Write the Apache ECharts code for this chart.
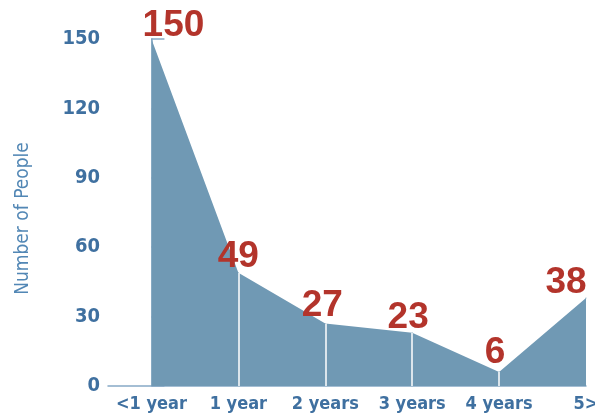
<!DOCTYPE html>
<html>
<head>
<meta charset="utf-8">
<script src="https://cdn.jsdelivr.net/npm/echarts@6/dist/echarts.min.js"></script>
<style>
  html, body { margin: 0; padding: 0; background: #fff; }
  #main { width: 595px; height: 415px; }
</style>
</head>
<body>
<div id="main"></div>
<script>
var categories = ['<1 year', '1 year', '2 years', '3 years', '4 years', '5>'];
var people = [150, 49, 27, 23, 6, 38];
var yTicks = [0, 30, 60, 90, 120, 150];

// label nudges [dx, dy] so the big numbers sit like the original
var labelNudge = [[22, 6], [0, 3], [-3, 1], [-4, 4], [-4, 0], [-20, 4]];

var blue = '#7099b4';
var labelBlue = '#3f70a0';
var red = '#b3342b';
var narrow = '"DejaVu Sans Condensed", "Liberation Sans", sans-serif';

var points = people.map(function (v, i) {
  return {
    value: [i, v],
    label: { offset: labelNudge[i] }
  };
});

var separators = [];
for (var i = 1; i < people.length - 1; i++) {
  separators.push([{ coord: [i, 0] }, { coord: [i, people[i]] }]);
}

var chart = echarts.init(document.getElementById('main'));
chart.setOption({
  animation: false,
  grid: { left: 108, right: 9, top: 39, bottom: 29, outerBoundsMode: 'none', containLabel: false },
  xAxis: {
    type: 'value',
    min: -0.5,
    max: categories.length - 1,
    splitLine: { show: false },
    axisLine: { lineStyle: { color: '#86a9c6', width: 1.5 } },
    axisTick: { show: false },
    axisLabel: {
      customValues: [0, 1, 2, 3, 4, 5],
      formatter: function (v) { return categories[Math.round(v)]; },
      color: labelBlue,
      fontFamily: narrow,
      fontWeight: 'bold',
      fontSize: 18,
      margin: 9
    }
  },
  yAxis: {
    type: 'value',
    min: yTicks[0],
    max: yTicks[yTicks.length - 1],
    interval: 30,
    name: 'Number of People',
    nameLocation: 'middle',
    nameGap: 75,
    nameTextStyle: {
      color: '#5287b5',
      fontFamily: narrow,
      fontSize: 19,
      padding: [0, 12, 0, 0]
    },
    splitLine: { show: false },
    axisLine: { show: true, lineStyle: { color: '#86a9c6', width: 1.5 } },
    axisTick: { show: true, inside: true, length: 13, lineStyle: { color: '#86a9c6', width: 1.5 } },
    axisLabel: {
      color: labelBlue,
      fontFamily: narrow,
      fontWeight: 'bold',
      fontSize: 20,
      margin: 8,
      padding: [3, 0, 0, 0]
    }
  },
  series: [{
    type: 'line',
    data: points,
    showSymbol: true,
    symbol: 'circle',
    symbolSize: 1,
    itemStyle: { color: blue },
    lineStyle: { width: 0 },
    areaStyle: { color: blue, opacity: 1 },
    label: {
      show: true,
      position: 'top',
      distance: 0,
      color: red,
      fontFamily: 'Liberation Sans',
      fontWeight: 'bold',
      fontSize: 37
    },
    markLine: {
      silent: true,
      symbol: 'none',
      label: { show: false },
      lineStyle: { color: '#ffffff', width: 1.5, type: 'solid' },
      data: separators
    }
  }]
});
</script>
</body>
</html>
